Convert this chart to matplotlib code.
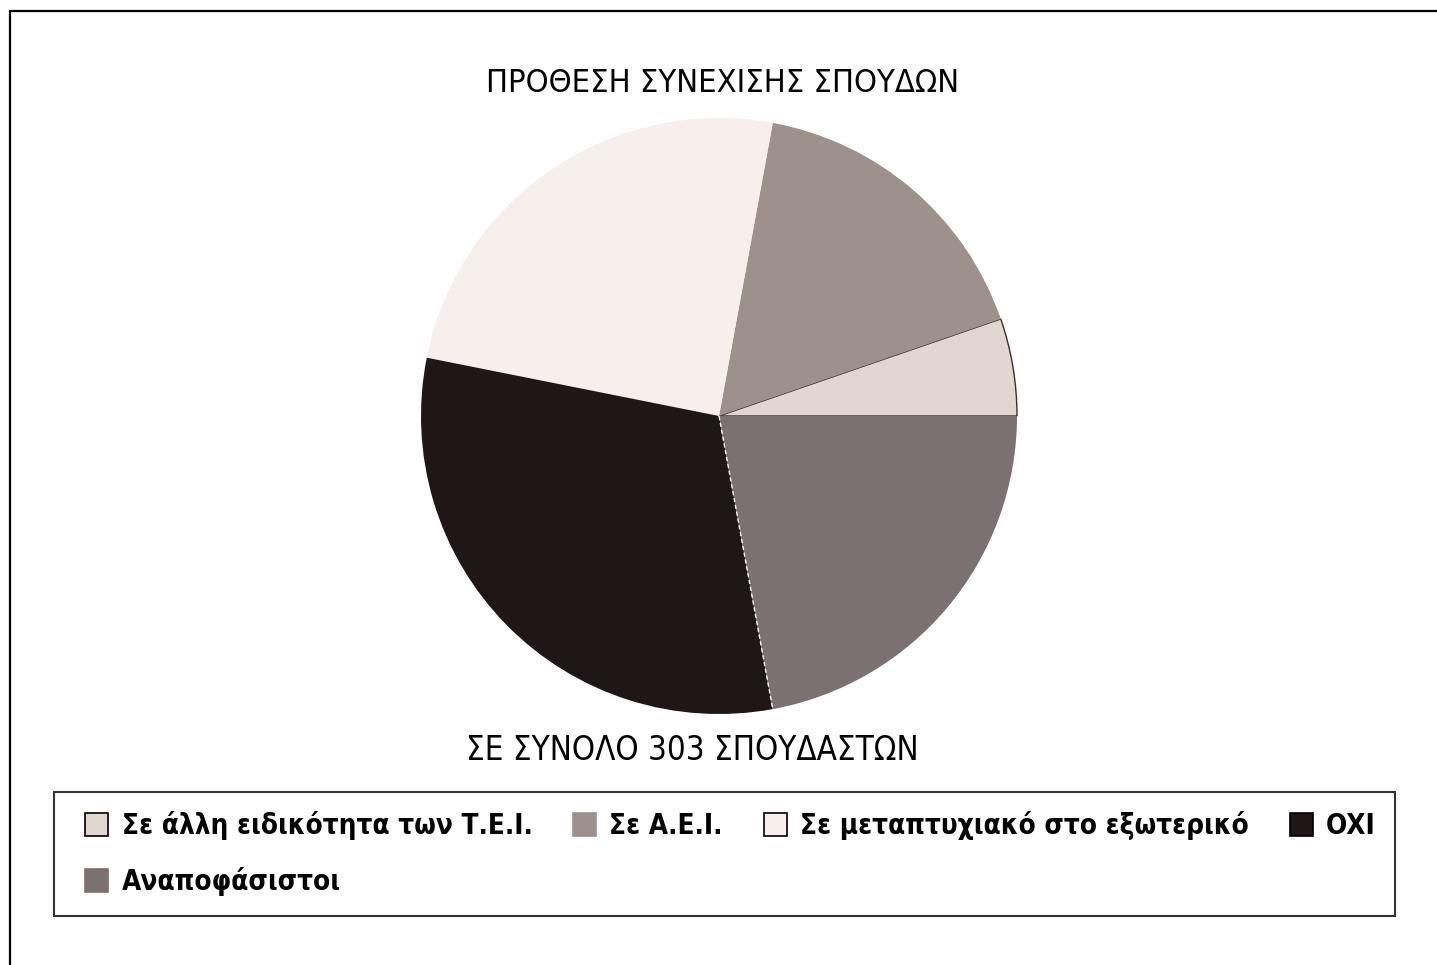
import matplotlib
matplotlib.use("Agg")
import numpy as np
import matplotlib.pyplot as plt
from matplotlib.patches import Patch, Rectangle
from matplotlib.legend_handler import HandlerPatch

# δεδομένα (σύνολο 303 σπουδαστές)
categories = ["Σε άλλη ειδικότητα των Τ.Ε.Ι.", "Σε Α.Ε.Ι.",
              "Σε μεταπτυχιακό στο εξωτερικό", "ΟΧΙ", "Αναποφάσιστοι"]
counts = [16, 51, 75, 94, 67]
colors = ["#e2d6d0", "#9d918c", "#f6efec", "#1f1616", "#7b7171"]

title = "ΠΡΟΘΕΣΗ ΣΥΝΕΧΙΣΗΣ ΣΠΟΥΔΩΝ"
subtitle = "ΣΕ ΣΥΝΟΛΟ 303 ΣΠΟΥΔΑΣΤΩΝ"

plt.rcParams['font.family'] = ['DejaVu Sans']
plt.rcParams['font.stretch'] = 'condensed'

W, H = 1437, 965
fig = plt.figure(figsize=(W / 100, H / 100), dpi=100)
fig.patch.set_facecolor("white")

# εξωτερικό πλαίσιο (μόνο πάνω και αριστερά φαίνονται)
fig.add_artist(Rectangle((10 / W, -0.1), 1.2, 1.1 - 11 / H, transform=fig.transFigure,
                         fill=False, edgecolor="black", linewidth=1.6))

# πίτα
cx, cy, r = 719, 416, 298
ax = fig.add_axes([(cx - r) / W, (H - cy - r) / H, 2 * r / W, 2 * r / H])
wedges, _ = ax.pie(counts, colors=colors, startangle=0, counterclock=True,
                   wedgeprops=dict(linewidth=0))
wedges[0].set_edgecolor("#3a2e2e")
wedges[0].set_linewidth(1.0)
# λευκή διακεκομμένη γραμμή ανάμεσα σε ΟΧΙ και Αναποφάσιστοι
t = np.deg2rad(wedges[3].theta2)
ax.plot([0, np.cos(t)], [0, np.sin(t)], color="white", ls=(0, (3, 2)), lw=1)
ax.set_aspect("equal")
ax.set_xlim(-1, 1)
ax.set_ylim(-1, 1)
ax.axis("off")

fig.text(723 / W, 1 - 84 / H, title, ha="center", va="center", fontsize=23.4)
fig.text(692 / W, 1 - 750 / H, subtitle, ha="center", va="center", fontsize=23.8)


def small_square(legend, orig_handle, xdescent, ydescent, width, height, fontsize):
    s = 0.83 * fontsize
    return Rectangle((-xdescent + width - s, -ydescent + (height - s) / 2), s, s)


# υπόμνημα: σειρά ώστε να βγουν 4 στην πρώτη γραμμή και 1 στη δεύτερη
edge = ["black", colors[1], "black", "black", colors[4]]
handles = [Patch(facecolor=c, edgecolor=e, linewidth=1.2) for c, e in zip(colors, edge)]
order = [0, 4, 1, 2, 3]
leg = fig.legend([handles[i] for i in order], [categories[i] for i in order],
                 ncol=4, loc="upper left", mode="expand",
                 bbox_to_anchor=(54 / W, 1 - 914 / H, 1341 / W, 122 / H),
                 borderaxespad=0, prop=dict(weight="bold", size=20, stretch="condensed"),
                 handler_map={Patch: HandlerPatch(patch_func=small_square)},
                 handlelength=1.26, handleheight=0.83, handletextpad=0.47,
                 labelspacing=0.96, borderpad=0.7, fancybox=False, frameon=True)
leg.get_frame().set_edgecolor("black")
leg.get_frame().set_linewidth(1.5)

fig.savefig("out.png", dpi=100, facecolor="white")
